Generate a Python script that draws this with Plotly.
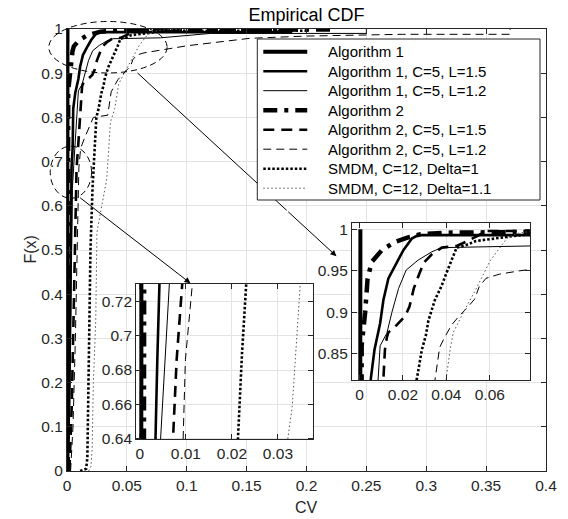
import plotly.graph_objects as go

# ---------------- data ----------------
names = ["Algorithm 1", "Algorithm 1, C=5, L=1.5", "Algorithm 1, C=5, L=1.2",
         "Algorithm 2", "Algorithm 2, C=5, L=1.5", "Algorithm 2, C=5, L=1.2",
         "SMDM, C=12, Delta=1", "SMDM, C=12, Delta=1.1"]

alg1_x = [0.0002, 0.0002, 0.0003, 0.0004]
alg1_y = [0.0, 0.6, 0.95, 1.0]

alg1_15_x = [0.0, 0.001, 0.002, 0.0028, 0.0034, 0.0038, 0.0047, 0.0052, 0.0069, 0.0095, 0.011,
             0.0133, 0.0172, 0.0202, 0.0241, 0.027, 0.187, 0.187]
alg1_15_y = [0.0, 0.05, 0.2, 0.4, 0.639, 0.686, 0.73, 0.82, 0.855, 0.887, 0.915,
             0.941, 0.961, 0.975, 0.989, 0.993, 0.993, 1.0]

alg1_12_x = [0.001, 0.002, 0.003, 0.004, 0.0045, 0.0054, 0.0065, 0.0083, 0.0095, 0.0126, 0.0149,
             0.018, 0.0215, 0.027, 0.0333, 0.0379, 0.078, 0.1, 0.12, 0.25, 0.25]
alg1_12_y = [0.0, 0.1, 0.3, 0.5, 0.639, 0.681, 0.73, 0.82, 0.86, 0.875, 0.9,
             0.929, 0.951, 0.963, 0.973, 0.978, 0.98, 0.985, 0.99, 0.99, 1.0]

alg2_x = [0.0006, 0.0008, 0.0009, 0.001, 0.0026, 0.0037, 0.0046, 0.0057, 0.0103, 0.0164,
          0.022, 0.028, 0.04, 0.055, 0.07, 0.22, 0.22]
alg2_y = [0.0, 0.3, 0.7, 0.86, 0.9, 0.94, 0.95, 0.961, 0.975, 0.985,
          0.99, 0.994, 0.996, 0.998, 0.999, 0.999, 1.0]

alg2_15_x = [0.002, 0.004, 0.0055, 0.0065, 0.0072, 0.008, 0.0092, 0.011, 0.0117, 0.0126, 0.0133,
             0.0172, 0.0211, 0.023, 0.025, 0.027, 0.0296, 0.0333, 0.0379, 0.0447, 0.049,
             0.055, 0.058, 0.19, 0.19]
alg2_15_y = [0.0, 0.15, 0.35, 0.5, 0.639, 0.686, 0.73, 0.82, 0.855, 0.87, 0.876,
             0.885, 0.896, 0.907, 0.929, 0.943, 0.96, 0.97, 0.978, 0.98, 0.985,
             0.993, 0.998, 0.998, 1.0]

alg2_12_x = [0.003, 0.005, 0.007, 0.0085, 0.0094, 0.0099, 0.0114, 0.014, 0.022, 0.034, 0.0369,
             0.0392, 0.0424, 0.046, 0.049, 0.053, 0.0551, 0.0582, 0.0643, 0.0735, 0.078,
             0.1, 0.153, 0.2, 0.28, 0.37, 0.37]
alg2_12_y = [0.0, 0.1, 0.3, 0.5, 0.639, 0.686, 0.73, 0.749, 0.8, 0.805, 0.858,
             0.87, 0.885, 0.896, 0.904, 0.916, 0.931, 0.941, 0.946, 0.95, 0.952,
             0.962, 0.979, 0.984, 0.988, 0.988, 1.0]

smdm1_x = [0.011, 0.016, 0.017, 0.018, 0.0188, 0.0196, 0.0213, 0.0222, 0.0231, 0.0245, 0.0264,
           0.0287, 0.0306, 0.0317, 0.0347, 0.0378, 0.0398, 0.0424, 0.0447, 0.049, 0.0536,
           0.074, 0.09, 0.2, 0.2]
smdm1_y = [0.0, 0.005, 0.03, 0.2, 0.34, 0.5, 0.639, 0.69, 0.73, 0.8, 0.82,
           0.855, 0.873, 0.89, 0.915, 0.932, 0.946, 0.962, 0.978, 0.981, 0.986,
           0.993, 0.996, 0.996, 1.0]

smdm11_x = [0.018, 0.020, 0.021, 0.022, 0.024, 0.025, 0.029, 0.0321, 0.0331, 0.0349, 0.0363,
            0.0399, 0.0417, 0.0432, 0.0478, 0.054, 0.0601, 0.0678, 0.0724, 0.08, 0.1]
smdm11_y = [0.0, 0.01, 0.05, 0.2, 0.34, 0.54, 0.6, 0.639, 0.6585, 0.73, 0.79,
            0.82, 0.855, 0.876, 0.9, 0.93, 0.962, 0.989, 0.995, 0.998, 1.0]

series_x = [alg1_x, alg1_15_x, alg1_12_x, alg2_x, alg2_15_x, alg2_12_x, smdm1_x, smdm11_x]
series_y = [alg1_y, alg1_15_y, alg1_12_y, alg2_y, alg2_15_y, alg2_12_y, smdm1_y, smdm11_y]

# ---------------- styles ----------------
widths = [4.0, 2.6, 1.0, 4.5, 2.6, 1.0, 2.6, 1.0]
dashes = ["solid", "solid", "solid", "14px,7px,4px,7px", "11px,7px", "8px,5px",
          "2.5px,2px", "1.5px,2.5px"]
colors = ["#000000"] * 7 + ["#555555"]

FONT = "Liberation Sans, Arial, Helvetica, sans-serif"
AX = "#262626"
GRID = "#e3e3e3"

# figure fills the 568x519 window (body margin removed in post_script)
W, H = 568, 519
L, R, T, B = 66.5, 546, 29, 471          # main plot area (px)
pw, ph = R - L, B - T

def px2paper_x(px):
    return (px - L) / pw

def px2paper_y(py):
    return 1 - (py - T) / ph

XR = [0, 0.4]
YR = [0, 1]

def d2p_x(x):
    return (x - XR[0]) / (XR[1] - XR[0])

def d2p_y(y):
    return (y - YR[0]) / (YR[1] - YR[0])

fig = go.Figure()
axes_sets = [("x", "y"), ("x2", "y2"), ("x3", "y3")]
for xa, ya in axes_sets:
    for i in range(len(names)):
        fig.add_trace(go.Scatter(
            x=series_x[i], y=series_y[i], mode="lines", name=names[i],
            line=dict(color=colors[i], width=widths[i], dash=dashes[i]),
            xaxis=xa, yaxis=ya, showlegend=False, hoverinfo="skip"))

TICK = 15.5
axis_common = dict(showgrid=True, gridcolor=GRID, gridwidth=1, showline=True,
                   linecolor=AX, linewidth=1, mirror="ticks", ticks="inside",
                   ticklen=5, tickcolor=AX, zeroline=False,
                   tickfont=dict(family=FONT, size=TICK, color=AX))

# inset 1 (lower-left) and inset 2 (right) in px
in1 = dict(l=135.7, r=312.7, t=284, b=439.3)
in2 = dict(l=351.7, r=530, t=222.7, b=380)

fig.update_layout(
    width=W, height=H,
    margin=dict(l=L, r=W - R, t=T, b=H - B, autoexpand=False),
    paper_bgcolor="white", plot_bgcolor="white",
    font=dict(family=FONT, color=AX),
    hovermode=False,
    title=dict(text="Empirical CDF", x=0.5, xref="paper", xanchor="center",
               y=1 - 15 / H, yref="container", yanchor="middle",
               font=dict(family=FONT, size=18, color="#000000")),
    xaxis=dict(range=XR, dtick=0.05, tick0=0, domain=[0, 1], anchor="y", **axis_common),
    yaxis=dict(range=YR, dtick=0.1, tick0=0, domain=[0, 1], anchor="x", **axis_common),
    xaxis2=dict(range=[-0.0008, 0.0376], dtick=0.01, tick0=0, anchor="y2",
                domain=[px2paper_x(in1["l"]), px2paper_x(in1["r"])], **axis_common),
    yaxis2=dict(range=[0.6394, 0.7304], dtick=0.02, tick0=0, anchor="x2",
                domain=[px2paper_y(in1["b"]), px2paper_y(in1["t"])], **axis_common),
    xaxis3=dict(range=[-0.0035, 0.0785], dtick=0.02, tick0=0, anchor="y3",
                domain=[px2paper_x(in2["l"]), px2paper_x(in2["r"])], **axis_common),
    yaxis3=dict(range=[0.8187, 1.008], dtick=0.05, tick0=0, anchor="x3",
                domain=[px2paper_y(in2["b"]), px2paper_y(in2["t"])], **axis_common),
    showlegend=False,
)

# axis titles
fig.add_annotation(text="CV", x=px2paper_x(306), y=px2paper_y(508), xref="paper", yref="paper",
                   xanchor="center", yanchor="middle", showarrow=False,
                   font=dict(family=FONT, size=16, color=AX))
fig.add_annotation(text="F(x)", x=px2paper_x(29), y=0.5, xref="paper", yref="paper",
                   xanchor="center", yanchor="middle", showarrow=False, textangle=-90,
                   font=dict(family=FONT, size=16, color=AX))

# dashed ellipses marking the zoomed regions (data coords -> paper coords)
ell1 = dict(x0=-0.0152, x1=0.0836, y0=0.9005, y1=1.017)
ell2 = dict(x0=-0.014, x1=0.0205, y0=0.617, y1=0.735)
for e in (ell1, ell2):
    fig.add_shape(type="circle", xref="paper", yref="paper",
                  x0=d2p_x(e["x0"]), x1=d2p_x(e["x1"]), y0=d2p_y(e["y0"]), y1=d2p_y(e["y1"]),
                  line=dict(color="#000000", width=1, dash="6px,4px"), layer="above")

# arrow 1: ellipse (top) -> right inset; first part runs under the legend box
a1_tail, a1_tip = (0.0589, 0.9005), (0.225, 0.486)
t = 0.75
a1_mid = (a1_tail[0] + t * (a1_tip[0] - a1_tail[0]), a1_tail[1] + t * (a1_tip[1] - a1_tail[1]))
fig.add_shape(type="line", xref="x", yref="y", x0=a1_tail[0], y0=a1_tail[1],
              x1=a1_mid[0], y1=a1_mid[1], line=dict(color="#000000", width=1), layer="above")
fig.add_annotation(x=a1_tip[0], y=a1_tip[1], ax=a1_mid[0], ay=a1_mid[1],
                   xref="x", yref="y", axref="x", ayref="y", text="",
                   showarrow=True, arrowhead=2, arrowsize=1.2, arrowwidth=1, arrowcolor="#000000")
# arrow 2: small ellipse -> lower-left inset
fig.add_annotation(x=0.1031, y=0.4247, ax=0.0098, ay=0.6206,
                   xref="x", yref="y", axref="x", ayref="y", text="",
                   showarrow=True, arrowhead=2, arrowsize=1.2, arrowwidth=1, arrowcolor="#000000")

# legend box (drawn like the reference: opaque, boxed, upper right)
leg = dict(l=257, r=540, t=39, b=200)
fig.add_shape(type="rect", xref="paper", yref="paper",
              x0=px2paper_x(leg["l"]), x1=px2paper_x(leg["r"]),
              y0=px2paper_y(leg["b"]), y1=px2paper_y(leg["t"]),
              fillcolor="white", line=dict(color=AX, width=1), layer="above")
row0, drow = 51.7, 19.5
for i, nm in enumerate(names):
    yy = px2paper_y(row0 + i * drow)
    fig.add_shape(type="line", xref="paper", yref="paper",
                  x0=px2paper_x(263), x1=px2paper_x(307), y0=yy, y1=yy,
                  line=dict(color=colors[i], width=widths[i], dash=dashes[i]), layer="above")
    fig.add_annotation(text=nm, x=px2paper_x(326), y=yy, xref="paper", yref="paper",
                       xanchor="left", yanchor="middle", showarrow=False,
                       font=dict(family=FONT, size=15, color="#000000"))

fig.write_html("out.html", config={"displayModeBar": False},
               post_script="document.body.style.margin='0px';document.body.style.overflow='hidden';")
